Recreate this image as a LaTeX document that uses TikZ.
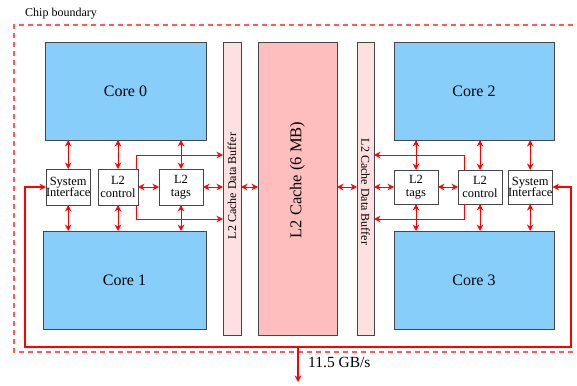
\documentclass[tikz,border=0pt]{standalone}
\usepackage{fontspec}
\setmainfont{Liberation Serif}
\usetikzlibrary{arrows.meta,calc}
\definecolor{coreblue}{RGB}{135,206,250}
\definecolor{cachepink}{RGB}{255,190,190}
\definecolor{bufpink}{RGB}{255,224,224}
\definecolor{bordergray}{RGB}{70,70,70}
\definecolor{dashred}{RGB}{255,90,90}
\begin{document}
\begin{tikzpicture}[x=1pt,y=-1pt,
  blk/.style={draw=bordergray,line width=0.9pt,inner sep=0pt,outer sep=0pt,anchor=north west},
  corebox/.style={blk,fill=coreblue,font=\fontsize{16}{19}\selectfont},
  smallbox/.style={blk,fill=white,align=center,font=\fontsize{12.5}{13.5}\selectfont},
  arr/.style={draw=red,line width=1pt,{Stealth[length=6.5pt,width=6.5pt]}-{Stealth[length=6.5pt,width=6.5pt]}},
  arrto/.style={draw=red,line width=1pt,-{Stealth[length=6.5pt,width=6.5pt]}},
  redline/.style={draw=red,line width=1.3pt}]
\useasboundingbox (0,0) rectangle (577,385);
% chip boundary
\draw[dashred,line width=1.3pt,dash pattern=on 5pt off 4pt] (600,25) -- (14,25) -- (14,352) -- (600,352);
\node[anchor=west,font=\fontsize{12}{14}\selectfont,inner sep=0pt] (cb) at (25,14) {Chip boundary};
% cores
\node[corebox,minimum width=161pt,minimum height=98pt] (c0) at (45,42) {Core 0};
\node[corebox,minimum width=163pt,minimum height=98pt] (c1) at (43,231) {Core 1};
\node[corebox,minimum width=160pt,minimum height=98pt] (c2) at (394,42) {Core 2};
\node[corebox,minimum width=160pt,minimum height=98pt] (c3) at (394,231) {Core 3};
% buffers and cache
\node[blk,fill=bufpink,minimum width=18pt,minimum height=293pt] (bl) at (223,42) {};
\node[rotate=90,font=\fontsize{12}{14}\selectfont,inner sep=0pt] (blt) at (232,186) {L2 Cache Data Buffer};
\node[blk,fill=cachepink,minimum width=79pt,minimum height=293pt] (ca) at (258,42) {};
\node[rotate=90,font=\fontsize{16.5}{19}\selectfont,inner sep=0pt] (cat) at (297.5,180) {L2 Cache (6 MB)};
\node[blk,fill=bufpink,minimum width=17pt,minimum height=293pt] (br) at (357,42) {};
\node[rotate=-90,font=\fontsize{12}{14}\selectfont,inner sep=0pt] (brt) at (365.5,192) {L2 Cache Data Buffer};
% small boxes left
\node[smallbox,minimum width=44pt,minimum height=36pt] (siL) at (46,169) {System\\[-2pt]Interface};
\node[smallbox,minimum width=40pt,minimum height=36pt] (ctL) at (98,169) {L2\\control};
\node[smallbox,minimum width=44pt,minimum height=36pt] (tgL) at (159,169) {L2\\tags};
% small boxes right
\node[smallbox,minimum width=44pt,minimum height=34pt] (tgR) at (394,170) {L2\\tags};
\node[smallbox,minimum width=44pt,minimum height=34pt] (ctR) at (458,170) {L2\\control};
\node[smallbox,minimum width=44pt,minimum height=34pt] (siR) at (508,170) {System\\[-2pt]Interface};
% vertical arrows
\foreach \b in {siL,ctL,tgL}{
  \draw[arr] (\b.north) -- (\b.north |- c0.south);
  \draw[arr] (\b.south) -- (\b.south |- c1.north);
}
\foreach \b in {siR,ctR,tgR}{
  \draw[arr] (\b.north) -- (\b.north |- c2.south);
  \draw[arr] (\b.south) -- (\b.south |- c3.north);
}
% horizontal arrows
\draw[arr] (ctL.east) -- (tgL.west);
\draw[arr] (tgL.east) -- (tgL.east -| bl.west);
\draw[arr] (bl.east |- tgL.east) -- (tgL.east -| ca.west);
\draw[arr] (ca.east |- tgR.west) -- (tgR.west -| br.west);
\draw[arr] (br.east |- tgR.west) -- (tgR.west);
\draw[arr] (tgR.east) -- (ctR.west);
% control to buffers
\coordinate (lt) at (136,155);
\coordinate (lb) at (136,219);
\coordinate (rt) at (464,155);
\coordinate (rb) at (464,219);
\draw[arrto] (lt |- ctL.north) -- (lt) -- (lt -| bl.west);
\draw[arrto] (lb |- ctL.south) -- (lb) -- (lb -| bl.west);
\draw[arrto] (rt |- ctR.north) -- (rt) -- (rt -| br.east);
\draw[arrto] (rb |- ctR.south) -- (rb) -- (rb -| br.east);
% system interface loop
\coordinate (la) at (25,187);
\coordinate (lbb) at (25,347);
\coordinate (rbb) at (571,347);
\coordinate (ra) at (571,187);
\coordinate (mid) at (298,347);
\coordinate (out) at (298,382);
\draw[redline,{Stealth[length=6.5pt,width=6.5pt]}-{Stealth[length=6.5pt,width=6.5pt]}] (siL.west) -- (la) -- (lbb) -- (rbb) -- (ra) -- (siR.east);
\draw[redline,-{Stealth[length=6.5pt,width=6.5pt]}] (mid) -- (out);
\node[anchor=west,font=\fontsize{15.5}{17}\selectfont,inner sep=0pt] (bw) at (308,362) {11.5 GB/s};
\end{tikzpicture}
\end{document}
